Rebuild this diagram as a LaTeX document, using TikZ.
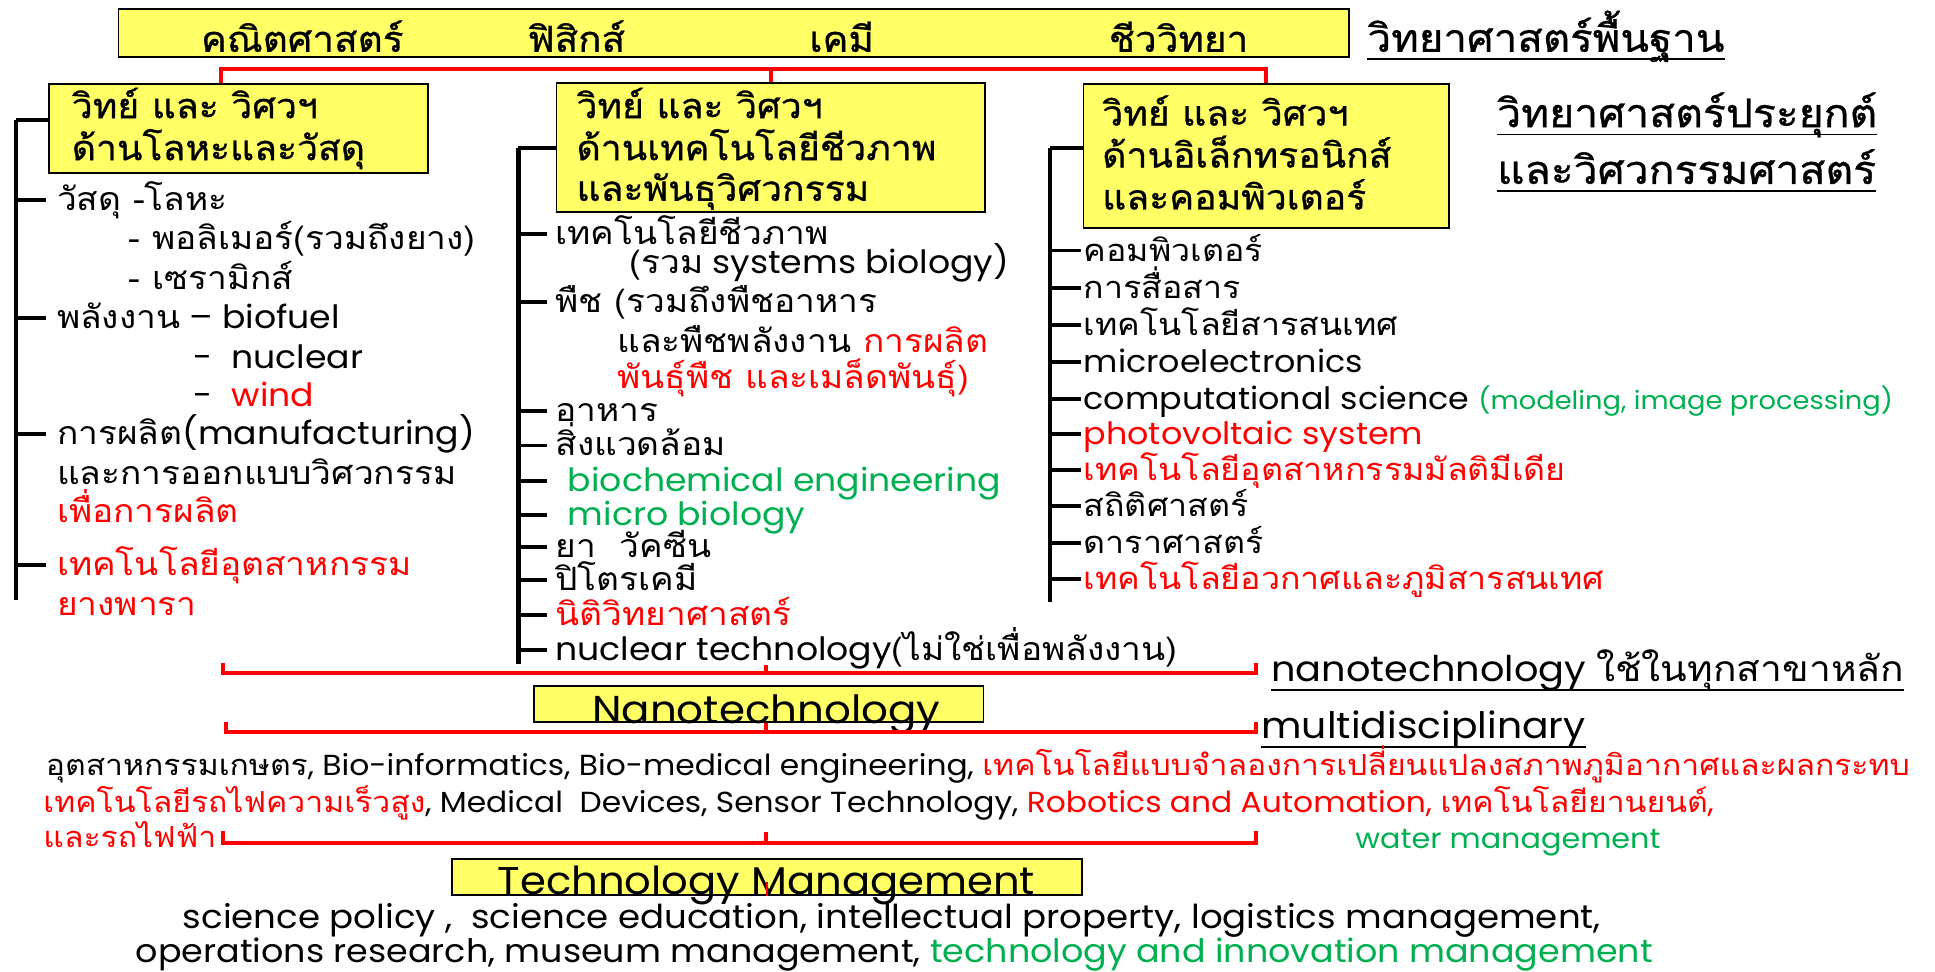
\documentclass[tikz,border=0pt]{standalone}
\usepackage{fontspec}
\setmainfont[FakeStretch=1.08]{Poppins}
\newfontfamily\thaif[Script=Thai,FakeStretch=1.1]{Loma}
\newfontfamily\thaib[Script=Thai,FakeStretch=1.08,FakeBold=0.8]{Loma}
\definecolor{yel}{HTML}{FFFF66}
\definecolor{rd}{HTML}{FF0000}
\definecolor{gn}{HTML}{00B050}
\newcommand\sz[1]{\fontsize{#1}{#1}\selectfont}
\begin{document}
\begin{tikzpicture}[x=1pt,y=-1pt,
  tx/.style={anchor=west,inner sep=0pt,text height=17pt,text depth=0pt},
  ctx/.style={tx,anchor=center},
  ybox/.style={draw=black,line width=1.4pt,fill=yel,inner sep=0pt},
  bar/.style={line width=3.6pt,black},
  tk/.style={line width=3.2pt,black},
  rl/.style={line width=3.2pt,rd},
  ul/.style={line width=1.3pt,black},
  boxf/.style={font=\sz{28}\thaib,text height=19.5pt},
  labf/.style={font=\sz{32}\thaib,text height=22pt},
  topf/.style={font=\sz{29}\thaib,text height=20pt},
  colf/.style={font=\sz{26}},
  rcolf/.style={font=\sz{25}},
  botf/.style={font=\sz{23.5},text height=15.5pt},
]
\useasboundingbox[fill=white] (0,0) rectangle (1568,787);

% ---------- top box ----------
\node[ybox,minimum width=997,minimum height=39] (top) at (594.5,26.5) {};
\node[ctx,topf] (s1) at (245,32) {คณิตศาสตร์};
\node[ctx,topf] (s2) at (467,32) {ฟิสิกส์};
\node[ctx,topf] (s3) at (682,32) {เคมี};
\node[ctx,topf] (s4) at (955,32) {ชีววิทยา};
\node[tx,font=\sz{31.5}\thaib,text height=22pt] (lab1) at (1108,31) {วิทยาศาสตร์พื้นฐาน};
\draw[ul] ([yshift=-6pt]lab1.base west) -- ([yshift=-6pt]lab1.base east);

% ---------- three boxes ----------
\node[ybox,minimum width=307,minimum height=72] (lbox) at (193.5,104) {};
\node[ybox,minimum width=347,minimum height=105] (mbox) at (624.5,119.5) {};
\node[ybox,minimum width=296,minimum height=117] (rbox) at (1026,126.5) {};

\node[tx,boxf] (lb1) at (58,86) {วิทย์ และ วิศวฯ};
\node[tx,boxf] (lb2) at (58,120) {ด้านโลหะและวัสดุ};
\node[tx,boxf] (mb1) at (467,86) {วิทย์ และ วิศวฯ};
\node[tx,boxf] (mb2) at (467,120) {ด้านเทคโนโลยีชีวภาพ};
\node[tx,boxf] (mb3) at (467,153) {และพันธุวิศวกรรม};
\node[tx,boxf] (rb1) at (893,92) {วิทย์ และ วิศวฯ};
\node[tx,boxf] (rb2) at (893,126) {ด้านอิเล็กทรอนิกส์};
\node[tx,boxf] (rb3) at (893,160) {และคอมพิวเตอร์};

\node[tx,labf] (lab2) at (1213,92) {วิทยาศาสตร์ประยุกต์};
\draw[ul] ([yshift=-6pt]lab2.base west) -- ([yshift=-6pt]lab2.base east);
\node[tx,labf] (lab3) at (1213,138) {และวิศวกรรมศาสตร์};
\draw[ul] ([yshift=-6pt]lab3.base west) -- ([yshift=-6pt]lab3.base east);

% red connector
\coordinate (rcl) at (179,56);
\draw[rl] (lbox.north -| rcl) -- (rcl) -| (rbox.north);
\draw[rl] (mbox.north) -- (mbox.north |- rcl);

% ---------- left column ----------
\coordinate (lt) at (13,97);
\coordinate (lbt) at (13,486);
\draw[bar] (lt) -- (lbt);
\draw[tk] (lt) -- (lt -| lbox.west);
\begin{scope}[every node/.append style={tx,colf}]
\node (l1) at (46,162) {\thaif วัสดุ -โลหะ};
\node (l2) at (104,194) {\thaif - พอลิเมอร์(รวมถึงยาง)};
\node (l3) at (104,226) {\thaif - เซรามิกส์};
\node (l4) at (46,258) {{\thaif พลังงาน} – biofuel};
\node (l5) at (157,290) {-\ \ nuclear};
\node (l6) at (157,321) {-\ \ \textcolor{rd}{wind}};
\node (l7) at (46,352) {{\thaif การผลิต}(manufacturing)};
\node (l8) at (46,384) {\thaif และการออกแบบวิศวกรรม};
\node[text=rd] (l9) at (46,415) {\thaif เพื่อการผลิต};
\node[text=rd] (l10) at (46,458) {\thaif เทคโนโลยีอุตสาหกรรม};
\node[text=rd] (l11) at (46,490) {\thaif ยางพารา};
\end{scope}
\foreach \n in {l1,l4,l7,l10} \draw[tk] (lt |- \n.west) -- ([xshift=-9pt]\n.west);

% ---------- middle column ----------
\coordinate (mt) at (420,120);
\coordinate (mbt) at (420,538);
\draw[bar] (mt) -- (mbt);
\draw[tk] (mt) -- (mt -| mbox.west);
\begin{scope}[every node/.append style={tx,colf}]
\node (m1) at (450,190) {\thaif เทคโนโลยีชีวภาพ};
\node (m2) at (510,213) {{\thaif (รวม} systems biology)};
\node (m3) at (450,245) {\thaif พืช (รวมถึงพืชอาหาร};
\node (m4) at (500,277) {\thaif และพืชพลังงาน \textcolor{rd}{การผลิต}};
\node[text=rd] (m5) at (500,306) {\thaif พันธุ์พืช และเมล็ดพันธุ์)};
\node (m6) at (450,333) {\thaif อาหาร};
\node (m7) at (450,361) {\thaif สิ่งแวดล้อม};
\node[text=gn] (m8) at (460,390) {biochemical engineering};
\node[text=gn] (m9) at (460,417) {micro biology};
\node (m10) at (450,443) {\thaif ยา\ \ วัคซีน};
\node (m11) at (450,470) {\thaif ปิโตรเคมี};
\node[text=rd] (m12) at (450,498) {\thaif นิติวิทยาศาสตร์};
\node (m13) at (450,527) {nuclear technology{\thaif (ไม่ใช่เพื่อพลังงาน)}};
\end{scope}
\draw[tk] (mt |- m1.west) -- ([xshift=-7pt]m1.west);
\draw[tk] (mt |- m3.west) -- ([xshift=-7pt]m3.west);
\foreach \n in {m6,m7,m10,m11,m12,m13} \draw[tk] (mt |- \n.west) -- ([xshift=-7pt]\n.west);
\foreach \n in {m8,m9} \draw[tk] (mt |- \n.west) -- ([xshift=-17pt]\n.west);

% ---------- right column ----------
\coordinate (rt) at (851,120);
\coordinate (rbt) at (851,488);
\draw[bar] (rt) -- (rbt);
\draw[tk] (rt) -- (rt -| rbox.west);
\begin{scope}[every node/.append style={tx,rcolf}]
\node (r1) at (878,203) {\thaif คอมพิวเตอร์};
\node (r2) at (878,233) {\thaif การสื่อสาร};
\node (r3) at (878,263) {\thaif เทคโนโลยีสารสนเทศ};
\node (r4) at (878,293) {microelectronics};
\node (r5) at (878,323) {computational science \textcolor{gn}{\sz{20.5}(modeling, image processing)}};
\node[text=rd] (r6) at (878,352) {photovoltaic system};
\node[text=rd] (r7) at (878,381) {\thaif เทคโนโลยีอุตสาหกรรมมัลติมีเดีย};
\node (r8) at (878,410) {\thaif สถิติศาสตร์};
\node (r9) at (878,440) {\thaif ดาราศาสตร์};
\node[text=rd] (r10) at (878,469) {\thaif เทคโนโลยีอวกาศและภูมิสารสนเทศ};
\end{scope}
\foreach \n in {r1,r2,r3,r4,r5,r6,r7,r8,r9,r10} \draw[tk] (rt |- \n.west) -- ([xshift=-2pt]\n.west);

% ---------- nanotechnology ----------
\coordinate (b1l) at (181,545); \coordinate (b1r) at (1018,545); \coordinate (b1m) at (621,545);
\draw[rl] (b1l) ++(0,-8) -- (b1l) -- (b1r) -- ++(0,-8);
\draw[rl] (b1m) -- ++(0,-6);
\node[tx,font=\sz{28.7},text height=20pt] (lab4) at (1030,542) {nanotechnology {\thaif ใช้ในทุกสาขาหลัก}};
\draw[ul] ([yshift=-7pt]lab4.base west) -- ([yshift=-7pt]lab4.base east);

\node[ybox,minimum width=364,minimum height=29] (nano) at (615,570.5) {};
\node[ctx,font=\sz{31.5},text height=22pt] (nanot) at (621,575) {Nanotechnology};

\coordinate (b2l) at (183,593); \coordinate (b2r) at (1018,593); \coordinate (b2m) at (621,593);
\draw[rl] (b2l) ++(0,-8) -- (b2l) -- (b2r) -- ++(0,-8);
\draw[rl] (b2m) -- ++(0,-7);
\node[tx,font=\sz{29.5},text height=20.5pt] (lab5) at (1022,588) {multidisciplinary};
\draw[ul] ([yshift=-7pt]lab5.base west) -- ([yshift=-7pt]lab5.base east);

\begin{scope}[every node/.append style={tx,botf}]
\node (a1) at (37,621) {{\thaif อุตสาหกรรมเกษตร}, Bio-informatics, Bio-medical engineering, \textcolor{rd}{\thaif เทคโนโลยีแบบจำลองการเปลี่ยนแปลงสภาพภูมิอากาศและผลกระทบ}};
\node (a2) at (35,651) {\textcolor{rd}{\thaif เทคโนโลยีรถไฟความเร็วสูง}, Medical\ \ Devices, Sensor Technology, \textcolor{rd}{Robotics and Automation, {\thaif เทคโนโลยียานยนต์},}};
\node[text=rd] (a3) at (35,679) {\thaif และรถไฟฟ้า};
\node[text=gn,font=\sz{22.7}] (a4) at (1098,680) {water management};
\end{scope}

\coordinate (b3l) at (181,683); \coordinate (b3r) at (1018,683); \coordinate (b3m) at (621,683);
\draw[rl] (b3l) ++(0,-10) -- (b3l) -- (b3r) -- ++(0,-10);
\draw[rl] (b3m) -- ++(0,-9);

% ---------- technology management ----------
\node[ybox,minimum width=511,minimum height=29] (tm) at (621.5,710.5) {};
\node[ctx,font=\sz{31.3},text height=22pt] (tmt) at (621,714) {Technology Management};
\draw[line width=1.6pt,rd] (tm.south) -- ++(0,-11);

\node[tx,font=\sz{26.7},text height=18pt] (c1) at (148,743) {science policy ,\ \ science education, intellectual property, logistics management,};
\node[tx,font=\sz{26.2},text height=16pt] (c2) at (110,772) {operations research, museum management, \textcolor{gn}{technology and innovation management}};
\end{tikzpicture}
\end{document}
